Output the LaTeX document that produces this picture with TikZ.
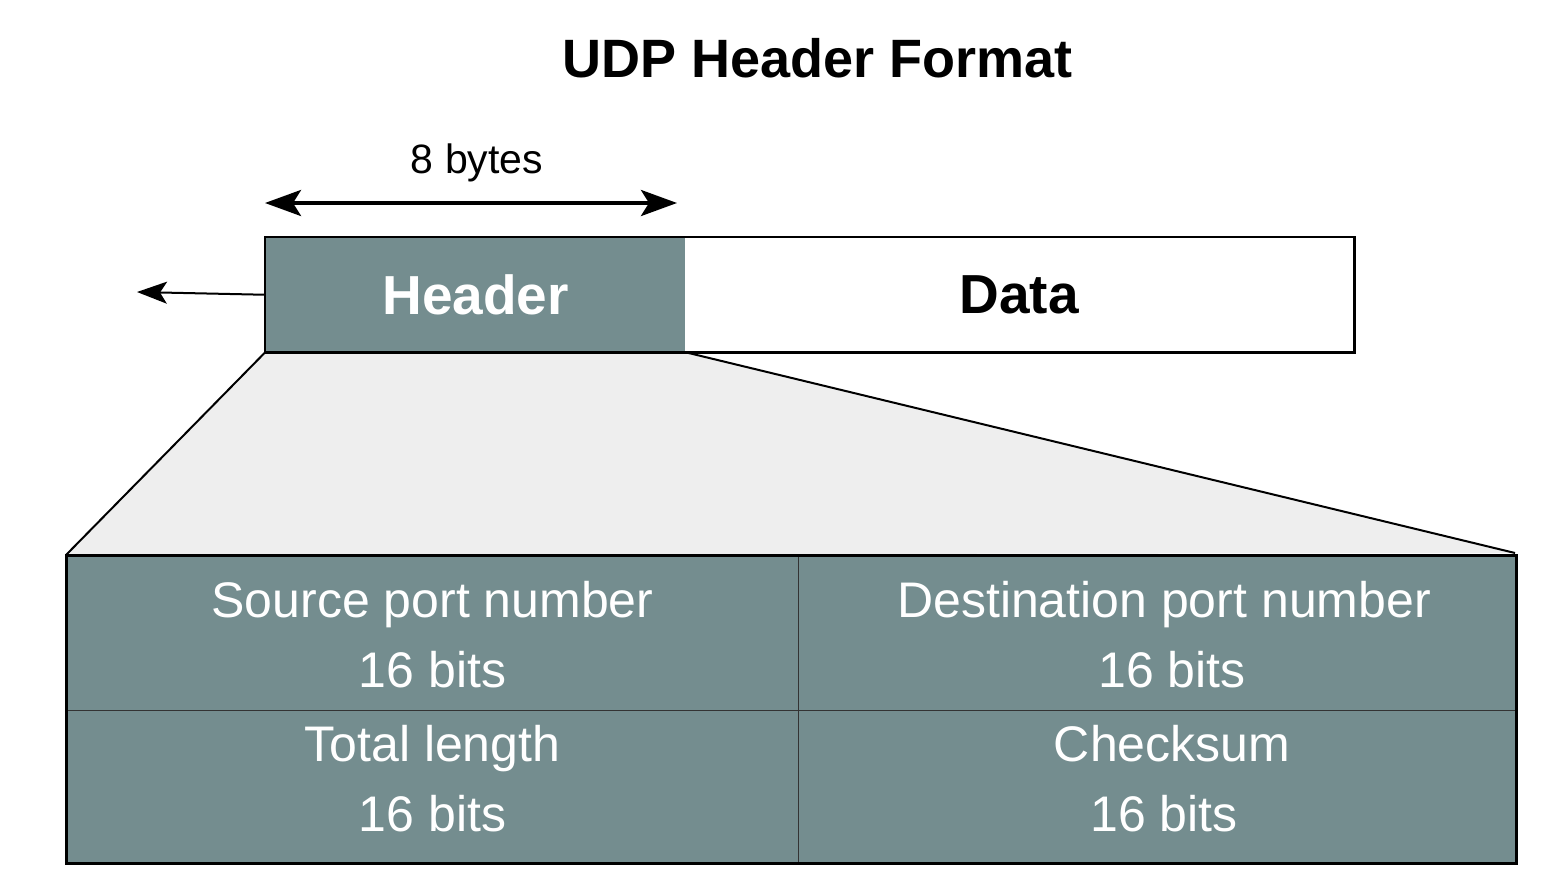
\documentclass[tikz,border=0pt]{standalone}
\usepackage{fontspec}
\setmainfont{Liberation Sans}
\usetikzlibrary{arrows.meta}
\definecolor{slate}{HTML}{748D8F}
\definecolor{funnel}{HTML}{EEEEEE}
\begin{document}
\begin{tikzpicture}[x=1pt,y=-1pt,
  cell/.style={fill=slate, draw=black!80, line width=1pt, minimum width=732pt, minimum height=155pt, inner sep=0pt},
  celltext/.style={text=white, align=center, inner sep=0pt, font=\fontsize{50}{70}\selectfont},
  seg/.style={line width=2.5pt, minimum height=113pt, inner sep=0pt, font=\bfseries\fontsize{55}{60}\selectfont},
  dim/.style={line width=4pt, {Stealth[length=36pt,width=26pt,inset=8pt]}-{Stealth[length=36pt,width=26pt,inset=8pt]}},
  lead/.style={line width=2pt, -{Stealth[length=30pt,width=22pt,inset=7pt]}}
]
\useasboundingbox (0,0) rectangle (1563,894);
\fill[white] (0,0) rectangle (1563,894);

\node[font=\bfseries\fontsize{54}{60}\selectfont] (title) at (818,58) {UDP Header Format};

% header / data strip
\node[seg, fill=slate, text=white, minimum width=419pt, anchor=north west] (hdr) at (265,237) {Header};
\node[seg, fill=white, minimum width=668pt, anchor=north west] (data) at (684,237) {Data};

% size arrow
\coordinate (ba) at (265,203);
\coordinate (bb) at (677,203);
\draw[dim] (ba) -- (bb);
\node[font=\fontsize{41}{45}\selectfont] (bytes) at (477,163) {8 bytes};

% leading arrow
\coordinate (la) at (137,292);
\draw[lead] (hdr.west) -- (la);

% funnel
\coordinate (tl) at (66,555);
\coordinate (tr) at (1515,553);
\fill[funnel] (hdr.south west) -- (hdr.south east) -- (tr) -- (tl) -- cycle;
\draw[line width=2pt] (hdr.south west) -- (tl);
\draw[line width=2pt] (hdr.south east) -- (tr);

% table
\node[cell, minimum width=732pt, anchor=north west] (c1) at (66,555) {};
\node[cell, minimum width=717pt, anchor=north west] (c2) at (798,555) {};
\node[cell, minimum width=732pt, minimum height=152pt, anchor=north west] (c3) at (66,710) {};
\node[cell, minimum width=717pt, minimum height=152pt, anchor=north west] (c4) at (798,710) {};
\node[celltext] (t1) at ([yshift=-2pt]c1.center) {Source port number\\16 bits};
\node[celltext] (t2) at ([yshift=-2pt]c2.center) {\hspace*{14pt}Destination port number\\\hspace*{30pt}16 bits};
\node[celltext] (t3) at ([yshift=8pt]c3.center) {Total length\\16 bits};
\node[celltext] (t4) at ([yshift=8pt]c4.center) {\hspace*{30pt}Checksum\\\hspace*{14pt}16 bits};
\draw[line width=3pt] (c1.north west) rectangle (c4.south east);
\draw[line width=2.5pt] (hdr.north west) rectangle (data.south east);
\end{tikzpicture}
\end{document}
